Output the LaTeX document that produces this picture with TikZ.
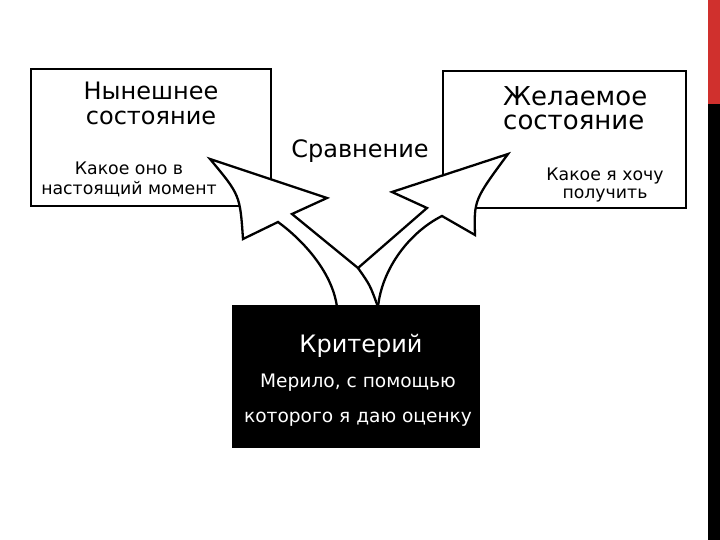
\documentclass[tikz,border=0pt]{standalone}
\usepackage{fontspec}
\setmainfont{DejaVu Sans}
\definecolor{barred}{RGB}{208,48,45}
\begin{document}
\begin{tikzpicture}[x=1pt,y=-1pt,
  box/.style={draw=black, line width=2.6pt, fill=white, inner sep=0pt},
  darkbox/.style={fill=black, inner sep=0pt},
  lbl/.style={anchor=base, inner sep=0pt, text=black},
  wlbl/.style={anchor=base, inner sep=0pt, text=white},
  big/.style={font=\fontsize{24}{25}\selectfont},
  small/.style={font=\fontsize{17.3}{20}\selectfont},
  arrowline/.style={draw=black, line width=2.3pt, line join=miter}]
\useasboundingbox (0,0) rectangle (720,540);
\fill[white] (0,0) rectangle (720,540);
\fill[barred] (708,0) rectangle (720,104);
\fill[black] (708,104) rectangle (720,540);
% boxes
\node[box, minimum width=240pt, minimum height=137pt] (now) at (151,137.5) {};
\node[box, minimum width=243pt, minimum height=137pt] (want) at (564.5,139.5) {};
% arrows
\path[arrowline, fill=white] (337,307) .. controls (332,270) and (300,238) .. (278,222)
  -- (243,239) .. controls (240,195) .. (210,159) -- (327,198) -- (292,214)
  -- (358,268) -- (427,208) -- (392,192) -- (508,154)
  .. controls (474,200) .. (475,235) -- (442,216)
  .. controls (410,232) and (382,268) .. (378,307);
\coordinate (fork) at (358,268);
\coordinate (trunk) at (378,307);
\draw[arrowline] (fork) .. controls (370,285) .. (trunk);
% criterion box
\node[darkbox, minimum width=248pt, minimum height=143pt] (crit) at (356,376.5) {};
% texts (anchor base = baseline of the last line)
\node[lbl, big, align=center] (nowt) at (151,125) {Нынешнее\\состояние};
\node[lbl, small, align=center] (nowd) at (129,195) {Какое оно в\\настоящий момент};
\node[lbl, big] (cmp) at (360,158) {Сравнение};
\node[lbl, font=\fontsize{26}{24}\selectfont, anchor=base west, align=left] (wantt) at (503,130) {Желаемое\\состояние};
\node[lbl, font=\fontsize{17.3}{18}\selectfont, align=center] (wantd) at (605,199) {Какое я хочу\\получить};
\node[wlbl, big] (crit1) at (361,352) {Критерий};
\node[wlbl, font=\fontsize{18.6}{35}\selectfont, align=center] (crit2) at (358,422) {Мерило, с помощью\\которого я даю оценку};
\end{tikzpicture}
\end{document}
